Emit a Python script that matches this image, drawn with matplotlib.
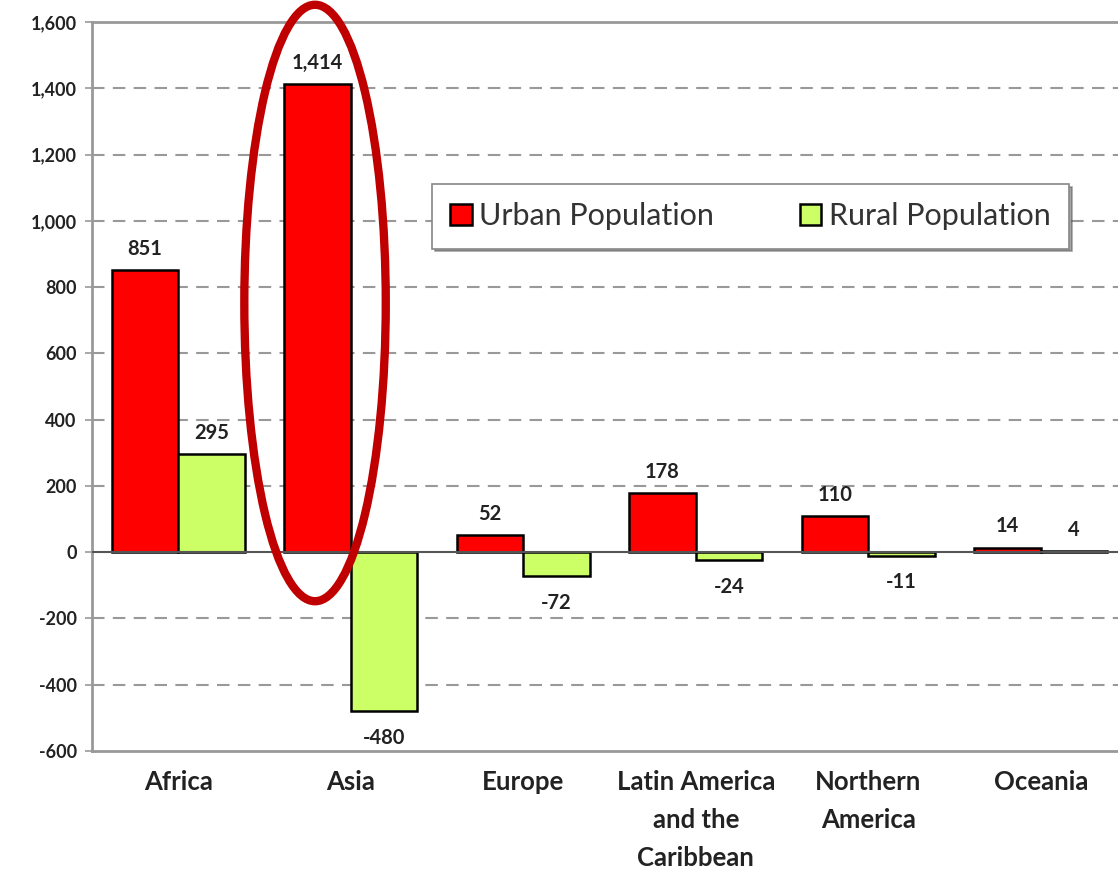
import matplotlib
matplotlib.use("Agg")
import matplotlib.pyplot as plt
from matplotlib.patches import Ellipse
import numpy as np

plt.rcParams['font.family'] = ['Lato', 'DejaVu Sans']

categories = ["Africa", "Asia", "Europe", "Latin America\nand the\nCaribbean", "Northern\nAmerica", "Oceania"]
urban = [851, 1414, 52, 178, 110, 14]
rural = [295, -480, -72, -24, -11, 4]
yticks = [-600, -400, -200, 0, 200, 400, 600, 800, 1000, 1200, 1400, 1600]

fig = plt.figure(figsize=(11.18, 8.71), dpi=100)
ax = fig.add_axes([92/1118, 1-751/871, 1035/1118, 729/871])

x = np.arange(len(categories))
w = 0.385
b1 = ax.bar(x - w/2, urban, w, color='#FF0000', edgecolor='black', linewidth=1.8, label='Urban Population', zorder=3)
b2 = ax.bar(x + w/2, rural, w, color='#CCFF66', edgecolor='black', linewidth=1.8, label='Rural Population', zorder=3)

for bars, vals in ((b1, urban), (b2, rural)):
    for rect, v in zip(bars, vals):
        cx = rect.get_x() + rect.get_width()/2
        if v >= 0:
            ax.annotate(f"{v:,}", (cx, v), xytext=(0, 8), textcoords='offset points',
                        ha='center', va='bottom', fontsize=14.5, fontweight='bold', color='#222222')
        else:
            ax.annotate(f"{v:,}", (cx, v), xytext=(0, -12), textcoords='offset points',
                        ha='center', va='top', fontsize=14.5, fontweight='bold', color='#222222')

ax.set_xlim(-0.5, len(categories) - 0.5)
ax.set_ylim(-600, 1600)
ax.set_yticks(yticks)
ax.set_yticklabels([f"{t:,}" for t in yticks], fontsize=13, fontweight='bold', color='#222222')
ax.set_xticks(x)
ax.set_xticklabels(categories, fontsize=18.5, fontweight='bold', color='#222222', linespacing=1.68)
ax.tick_params(axis='x', length=0, pad=14)
ax.tick_params(axis='y', length=5, color='#999999', width=1.2, pad=6)

for t in yticks:
    if t not in (0, -600, 1600):
        ax.axhline(t, color='#999999', linestyle=(0, (6, 4)), linewidth=1.5, zorder=1)
ax.axhline(0, color='#555555', linewidth=1.5, zorder=4)

for s in ax.spines.values():
    s.set_color('#999999')
    s.set_linewidth(2)

leg = ax.legend(loc='upper left', bbox_to_anchor=((432-92)/1035, (751-184)/729), ncol=2,
                fontsize=22, frameon=True, fancybox=False, shadow=True, edgecolor='#888888',
                handlelength=0.7, handleheight=0.7, handletextpad=0.25, columnspacing=2.8,
                borderpad=0.6, borderaxespad=0)
leg.get_frame().set_linewidth(1.2)
for t in leg.get_texts():
    t.set_color('#333333')

ell = Ellipse((0.793, 752), 0.82, 1800, fill=False, edgecolor='#C00000', linewidth=6, zorder=5, clip_on=False)
ax.add_patch(ell)

fig.savefig('out.png', dpi=100)
